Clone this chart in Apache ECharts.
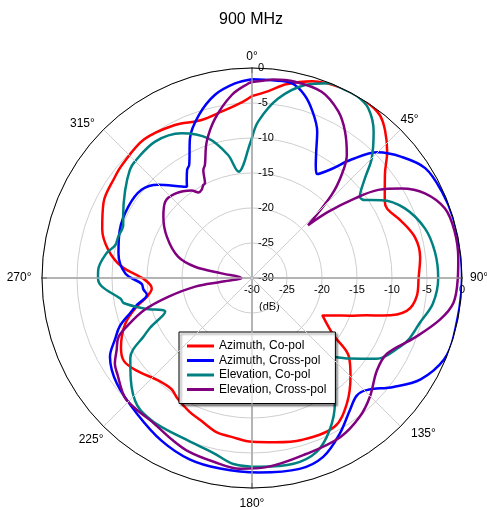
<!DOCTYPE html>
<html>
<head>
<meta charset="utf-8">
<script src="https://cdn.jsdelivr.net/npm/echarts@6/dist/echarts.min.js"></script>
<style>html,body{margin:0;padding:0;background:#fff}#c{width:487px;height:507px}</style>
</head>
<body>
<div id="c"></div>
<script>
// ---- data (angle in degrees, value in dB) ----
const titleText = '900 MHz';
const seriesNames = ['Azimuth, Co-pol', 'Azimuth, Cross-pol', 'Elevation, Co-pol', 'Elevation, Cross-pol'];
const angleTicks = [0, 45, 90, 135, 180, 225, 270, 315];
const radiusTicks = [-30, -25, -20, -15, -10, -5, 0];

const azCoAngles = [0,5,10,17,25,33,38,42,47,52,60,63,69,76,83,90,96,102,106,108,111,114.7,118,125,129,135,143,151,163,172,180,187,193,200,205,212,216,223,231,237,242,250,256,260,264,269,275,281,288,297,306,311,322,333,342,350,357];
const azCoValues = [-4.0,-3.2,-1.9,-0.6,0,0,-0.4,-1.6,-3.6,-5.9,-8.1,-8.3,-7.2,-6.0,-5.8,-6.2,-6.3,-7.4,-10.5,-12.8,-15,-17.2,-18.6,-15.8,-12.2,-10.1,-7.5,-5.7,-5.8,-6.3,-6.6,-7.1,-7.4,-8.4,-8.9,-9.8,-10.4,-10.1,-8.9,-8.2,-8.8,-10.7,-13,-14.8,-15.6,-14.7,-11.3,-9.1,-7.5,-6.2,-5.7,-5.4,-4.9,-5.5,-6.3,-5.8,-4.8];

const azCrossAngles = [0,6,11.5,16,20,24,27,29.5,32,36,40,45,51,57.6,65.5,73.5,83,90,106,113,121,127.6,134.4,138.3,143.5,150.5,158.3,166,178,189.5,199,209,220.4,232,241,246,250,254,257,261,264,267,272,280.5,290,300,308.6,314.8,322.4,324.5,326.3,329,331,336,342,348.6,355];
const azCrossValues = [-1.6,-1.6,-1.6,-2.8,-4.7,-7.1,-9.8,-11.5,-12.5,-10.8,-7.9,-4.6,-2.5,-0.7,-0.2,0,0,0,0,-0.2,-1.9,-4.5,-7.1,-7.5,-6.5,-4.5,-2.5,-1.9,-2.2,-2.4,-2.6,-3.4,-4.6,-5.5,-6.8,-8.6,-9.9,-11.9,-13.2,-14.8,-14.4,-14.2,-11.9,-10.6,-9.9,-9.6,-9.8,-11.1,-13.5,-14,-13.2,-12,-11.5,-8.2,-5.5,-3.3,-2.1];

const elCoAngles = [0,2.3,8.3,15.4,21.4,26,30,34.4,39.7,45,48.6,53,55.4,59,65.5,74,82,90,98,105,111,115,123,129.5,134,141,146.6,153,159.6,167.4,177.6,185.7,192.4,203.4,214.5,222,230,236.7,239,241.5,244,248.8,254,259,261,266.8,270,273,279.6,283.5,287.2,292.4,295.5,304.5,311.5,314.8,324.6,334,342.6,349,353,355.6,358.4];
const elCoValues = [-10,-7.6,-4.1,-1.4,-0.1,0,0,-0.6,-2.8,-5.8,-8.5,-10.7,-10.4,-8.4,-6.0,-4.3,-3.6,-3.4,-3.9,-5.2,-5.9,-6.7,-8.8,-11.9,-13.8,-11.2,-8.5,-5.6,-3.5,-2.8,-3.0,-3.3,-4.4,-5.1,-5.1,-5.5,-7.4,-9.2,-10.2,-12.3,-13.8,-16.7,-14.1,-11.3,-11.0,-8.5,-8.0,-8.0,-8.9,-9.9,-10.0,-10.1,-9.6,-8.0,-6.7,-6.4,-6.1,-7.0,-9.1,-12.1,-14.7,-13.8,-11.5];

const elCrossAngles = [0,4,6,12.4,20.5,27.4,32.4,37.6,41,43.8,46.7,49,52.3,55.1,59.1,63.9,70.2,77,84.6,90,97,102.5,110,119.3,126.5,135.2,142.2,151,162.7,175.6,183.6,192,200,206,215,220,226,229,234,238,242,246,248.8,253.5,257.4,261.4,263.1,270,278.7,281.2,286.1,295.8,304.7,311.3,317.7,325.4,328,330.2,332.4,333.6,335.7,337.4,341.6,347,353.7,358.9];
const elCrossValues = [-2.0,-1.7,-1.5,-1.3,-1.6,-3.2,-5.2,-7.8,-10.5,-13.6,-19,-15.6,-11.4,-8,-5.1,-2.5,-0.7,-0.3,-0.4,-0.6,-1.0,-2.5,-5.2,-7.9,-7.8,-6.1,-4.9,-4.0,-3.7,-2.9,-2.7,-3.2,-3.6,-4.2,-5.0,-5.0,-5.0,-5.4,-6.3,-6.9,-8.1,-9.1,-10.8,-14,-17.8,-21.8,-25.6,-28.5,-25.6,-21.7,-19,-16.5,-14.6,-13.5,-13.7,-14.8,-15.6,-15.5,-15,-14.9,-13.1,-12.5,-9.5,-6.6,-3.7,-2.2];

const seriesColors = ['#ff0000', '#0000ff', '#008080', '#800080'];

// ---- build ----
function closedLoop(angles, values) {
  const d = angles.map((a, i) => [values[i], a]);
  d.push([values[0], angles[0] + 360]);
  return d;
}
const allData = [
  closedLoop(azCoAngles, azCoValues),
  closedLoop(azCrossAngles, azCrossValues),
  closedLoop(elCoAngles, elCoValues),
  closedLoop(elCrossAngles, elCrossValues)
];

const FONT = 'Liberation Sans, Arial, sans-serif';
const C = [252, 278], R = 210;
const polars = [0, 1, 2, 3].map(() => ({ center: C, radius: R }));
const starts = [90, 0, 270, 180];

// per-label nudges (rich-text padding) to match the reference label placement
const labelPad = {
  0: [0, 0, 5.5, 0], 45: [0, 0, 3.5, 0], 90: [0, 0, 0, 8], 135: [1, 0, 0, 10.5],
  180: [10, 0, 0, 0], 225: [7, 0, 0, 0], 270: [0, 10.5, 0, 0], 315: [0, 8.7, 0, 0]
};
const rich = {};
angleTicks.forEach(a => {
  rich['a' + a] = { fontSize: 12, color: '#000', fontFamily: FONT, padding: labelPad[a] };
});

const angleAxes = starts.map((s, i) => i === 0 ? {
  polarIndex: 0, type: 'value', min: 0, max: 360, interval: 45,
  startAngle: 90, clockwise: true, z: 5,
  axisLine: { lineStyle: { color: '#000', width: 1 } },
  axisTick: { show: true, inside: true, length: 5, lineStyle: { color: '#000', width: 1 } },
  minorTick: { show: false },
  axisLabel: { fontSize: 12, color: '#000', fontFamily: FONT, margin: 0, rich: rich,
    formatter: v => (angleTicks.indexOf(v) >= 0 && v !== 360) ? '{a' + v + '|' + v + '°}' : '' },
  splitLine: { show: true, lineStyle: { color: '#cfcfcf', width: 1 } }
} : {
  polarIndex: i, type: 'value', min: 0, max: 360, interval: 45, startAngle: s, clockwise: true, show: false,
  axisLine: { show: false }, axisTick: { show: false }, axisLabel: { show: false },
  splitLine: { show: false }, minorTick: { show: false }
});

const labelAlign = [
  { align: 'left', verticalAlign: 'middle', margin: -6 },
  { align: 'center', verticalAlign: 'top', margin: -6 }
];
const radiusAxes = starts.map((s, i) => ({
  polarIndex: i, type: 'value', min: radiusTicks[0], max: radiusTicks[radiusTicks.length - 1], interval: 5,
  axisLine: { show: true, lineStyle: { color: '#999', width: 2 } },
  axisTick: { show: false },
  minorTick: { show: false },
  axisLabel: Object.assign({ show: i < 2, fontSize: 11, color: '#000', fontFamily: FONT }, labelAlign[i] || {}),
  splitLine: { show: i === 0, lineStyle: { color: '#cfcfcf', width: 1 } },
  z: 1
}));

const chart = echarts.init(document.getElementById('c'));
chart.setOption({
  backgroundColor: '#fff',
  animation: false,
  title: { text: titleText, left: 246, textAlign: 'center', top: 7,
    textStyle: { fontSize: 16, fontWeight: 'normal', color: '#000', fontFamily: FONT } },
  polar: polars,
  angleAxis: angleAxes,
  radiusAxis: radiusAxes,
  legend: {
    data: seriesNames, orient: 'vertical', left: 179, top: 332,
    itemWidth: 27, itemHeight: 12, itemGap: 2.5, padding: [8, 9, 8, 8],
    backgroundColor: '#fff', borderColor: '#000', borderWidth: 1,
    shadowColor: 'rgba(0,0,0,0.45)', shadowBlur: 2, shadowOffsetX: 2, shadowOffsetY: 2,
    textStyle: { fontSize: 12, color: '#000', fontFamily: FONT },
    icon: 'path://M0,0 L27,0 L27,3 L0,3 Z'
  },
  graphic: [{ type: 'text', left: 259, top: 301,
    style: { text: '(dB)', fill: '#000', font: '11px ' + FONT } }],
  series: allData.map((d, i) => ({
    name: seriesNames[i], type: 'line', coordinateSystem: 'polar', polarIndex: 0,
    data: d, smooth: 0.35, symbol: 'none', showSymbol: false,
    lineStyle: { color: seriesColors[i], width: 2.5 },
    itemStyle: { color: seriesColors[i] }, z: 3
  }))
});
</script>
</body>
</html>
